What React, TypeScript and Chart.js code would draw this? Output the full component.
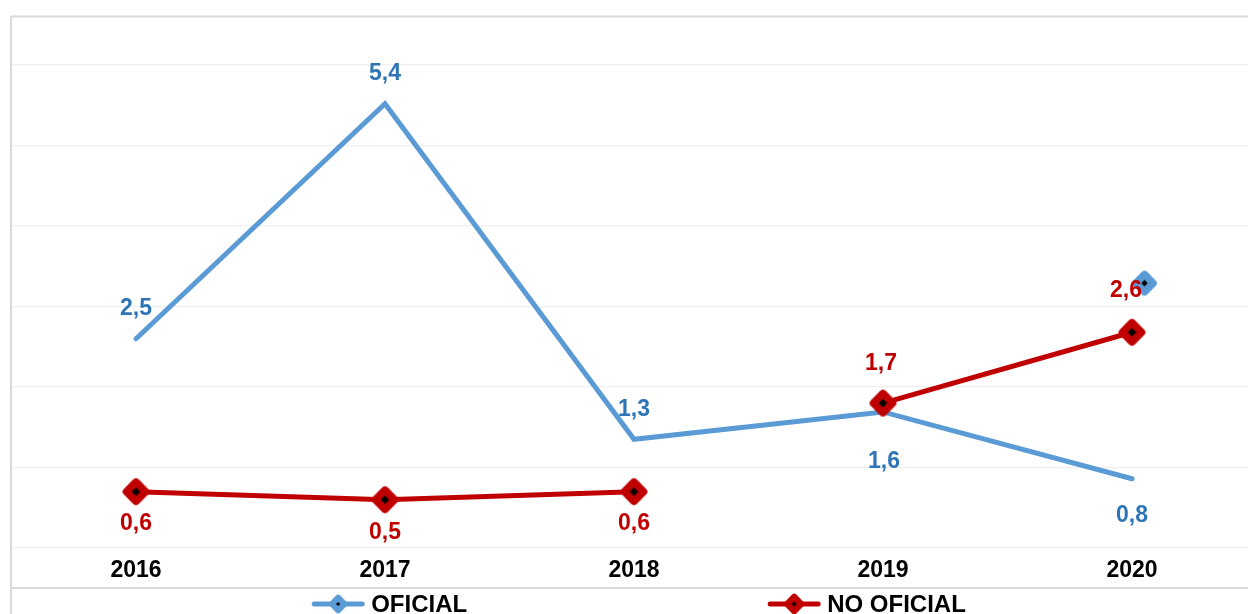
import React, { useEffect, useRef } from "react";
import { Chart, registerables } from "chart.js";

Chart.register(...registerables);

// ---- data ----
const years = ["2016", "2017", "2018", "2019", "2020"];
const oficial = [2.5, 5.42, 1.25, 1.59, 0.76];
const noOficial = [0.6, 0.5, 0.6, 1.7, 2.58];
const noOficialGapAfter = [2]; // no connecting line between 2018 and 2019
const strayOficialPoint = [{ x: 4.05, y: 3.19 }];
const yGridTicks = [-0.1, 0.9, 1.9, 2.9, 3.9, 4.9, 5.9];
const seriesNames = ["OFICIAL", "NO OFICIAL"];

// ---- styling ----
const BLUE = "#5b9bd5";
const BLUE_TEXT = "#2e75b6";
const RED = "#c00000";
const FONT = '"Liberation Sans", Arial, sans-serif';
const CANVAS_W = 1257;
const CANVAS_H = 614;
const oficialLabelShift = [
  [0, -30],
  [0, -30],
  [0, -30],
  [1, 50],
  [0, 37],
];
const noOficialLabelShift = [
  [0, 32],
  [0, 33],
  [0, 32],
  [-2, -39],
  [-6, -42],
];

const fmt = (v: number) => v.toFixed(1).replace(".", ",");

function makeDiamond(size: number, fill: string, dot: number, r: number): HTMLCanvasElement {
  const c = document.createElement("canvas");
  c.width = size;
  c.height = size;
  const ctx = c.getContext("2d")!;
  const h = size / 2;
  ctx.translate(h, h);
  ctx.rotate(Math.PI / 4);
  const s = (size - 1) / Math.SQRT2;
  ctx.fillStyle = fill;
  ctx.beginPath();
  ctx.moveTo(-s / 2 + r, -s / 2);
  ctx.lineTo(s / 2 - r, -s / 2);
  ctx.quadraticCurveTo(s / 2, -s / 2, s / 2, -s / 2 + r);
  ctx.lineTo(s / 2, s / 2 - r);
  ctx.quadraticCurveTo(s / 2, s / 2, s / 2 - r, s / 2);
  ctx.lineTo(-s / 2 + r, s / 2);
  ctx.quadraticCurveTo(-s / 2, s / 2, -s / 2, s / 2 - r);
  ctx.lineTo(-s / 2, -s / 2 + r);
  ctx.quadraticCurveTo(-s / 2, -s / 2, -s / 2 + r, -s / 2);
  ctx.closePath();
  ctx.fill();
  ctx.fillStyle = "#000";
  ctx.fillRect(-dot / 2, -dot / 2, dot, dot);
  return c;
}

export default function App() {
  const ref = useRef<HTMLCanvasElement | null>(null);

  useEffect(() => {
    if (!ref.current) return;
    const redMarker = makeDiamond(31, RED, 6, 4);
    const blueMarker = makeDiamond(29, BLUE, 4.5, 4);
    const redLegendMarker = makeDiamond(24, RED, 3.5, 3);
    const blueLegendMarker = makeDiamond(22, BLUE, 3, 3);

    const decorPlugin = {
      id: "decor",
      beforeDraw(chart: any) {
        const ctx = chart.ctx;
        ctx.save();
        ctx.fillStyle = "#fff";
        ctx.fillRect(0, 0, chart.width, chart.height);
        ctx.strokeStyle = "#d9d9d9";
        ctx.lineWidth = 2;
        ctx.beginPath();
        ctx.moveTo(11, chart.height + 5);
        ctx.lineTo(11, 16.5);
        ctx.lineTo(chart.width + 5, 16.5);
        ctx.stroke();
        ctx.beginPath();
        ctx.moveTo(12, 588);
        ctx.lineTo(chart.width + 5, 588);
        ctx.stroke();
        ctx.restore();
      },
      afterDatasetsDraw(chart: any) {
        const ctx = chart.ctx;
        ctx.save();
        ctx.font = `bold 23px ${FONT}`;
        ctx.textAlign = "center";
        ctx.textBaseline = "middle";
        const sets: [number, number[], number[][], string][] = [
          [0, oficial, oficialLabelShift, BLUE_TEXT],
          [1, noOficial, noOficialLabelShift, RED],
        ];
        for (const [di, vals, shift, color] of sets) {
          const meta = chart.getDatasetMeta(di);
          ctx.fillStyle = color;
          meta.data.forEach((el: any, i: number) => {
            ctx.fillText(fmt(vals[i]), el.x + shift[i][0], el.y + shift[i][1]);
          });
        }
        ctx.restore();
      },
      afterDraw(chart: any) {
        const ctx = chart.ctx;
        ctx.save();
        ctx.font = `bold 24px ${FONT}`;
        ctx.textBaseline = "middle";
        const lineLen = 52;
        const textGap = 7;
        const itemGap = 301;
        const legendCenter = 639;
        const y = 604;
        const w0 = lineLen + textGap + ctx.measureText(seriesNames[0]).width;
        const w1 = lineLen + textGap + ctx.measureText(seriesNames[1]).width;
        const total = w0 + itemGap + w1;
        let x = legendCenter - total / 2;
        const items: [string, string, HTMLCanvasElement, number][] = [
          [seriesNames[0], BLUE, blueLegendMarker, w0],
          [seriesNames[1], RED, redLegendMarker, w1],
        ];
        for (const [name, color, marker, w] of items) {
          ctx.strokeStyle = color;
          ctx.lineWidth = 5;
          ctx.lineCap = "round";
          ctx.beginPath();
          ctx.moveTo(x + 2, y);
          ctx.lineTo(x + lineLen - 2, y);
          ctx.stroke();
          ctx.drawImage(marker, x + lineLen / 2 - marker.width / 2, y - marker.height / 2);
          ctx.fillStyle = "#000";
          ctx.textAlign = "left";
          ctx.fillText(name, x + lineLen + textGap, y + 1);
          x += w + itemGap;
        }
        ctx.restore();
      },
    };

    const chart = new Chart(ref.current, {
      type: "line",
      data: {
        datasets: [
          {
            label: seriesNames[0],
            data: oficial.map((v, i) => ({ x: i, y: v })),
            borderColor: BLUE,
            backgroundColor: BLUE,
            borderWidth: 5,
            borderCapStyle: "round",
            borderJoinStyle: "miter",
            pointRadius: 0,
            pointHoverRadius: 0,
            order: 2,
          },
          {
            label: seriesNames[1],
            data: noOficial.map((v, i) => ({ x: i, y: v })),
            borderColor: RED,
            backgroundColor: RED,
            borderWidth: 5,
            borderCapStyle: "round",
            segment: {
              borderColor: (c: any) =>
                noOficialGapAfter.includes(c.p0DataIndex) ? "rgba(0,0,0,0)" : RED,
            },
            pointStyle: redMarker,
            pointRadius: 12,
            order: 1,
          },
          {
            label: "",
            data: strayOficialPoint,
            showLine: false,
            pointStyle: blueMarker,
            pointRadius: 12,
            order: 0,
          },
        ],
      },
      options: {
        responsive: false,
        animation: false,
        events: [],
        layout: { autoPadding: false, padding: { left: 11.5, right: 0.5, top: 65, bottom: 0 } },
        plugins: {
          legend: { display: false },
          tooltip: { enabled: false },
          title: { display: false },
        },
        scales: {
          x: {
            type: "linear",
            min: -0.5,
            max: 4.5,
            afterBuildTicks: (scale: any) => {
              scale.ticks = years.map((_, i) => ({ value: i }));
            },
            afterFit: (scale: any) => {
              scale.height = 66;
            },
            grid: { display: false, drawTicks: false },
            border: { display: false },
            ticks: {
              autoSkip: false,
              maxRotation: 0,
              padding: 9,
              color: "#000",
              font: { family: FONT, size: 23, weight: "bold" },
              callback: (v: any) => years[v as number] ?? "",
            },
          },
          y: {
            min: -0.1,
            max: 5.9,
            afterBuildTicks: (scale: any) => {
              scale.ticks = yGridTicks.map((v) => ({ value: v }));
            },
            afterFit: (scale: any) => {
              scale.width = 0;
            },
            grid: { color: "#efefef", lineWidth: 1.2, drawTicks: false },
            border: { display: false },
            ticks: { display: false },
          },
        },
      },
      plugins: [decorPlugin],
    } as any);
    return () => chart.destroy();
  }, []);

  return (
    <div
      style={{
        position: "fixed",
        left: 0,
        top: 0,
        width: 1248,
        height: 614,
        overflow: "hidden",
        background: "#fff",
      }}
    >
      <canvas
        ref={ref}
        width={CANVAS_W}
        height={CANVAS_H}
        style={{ display: "block", width: CANVAS_W, height: CANVAS_H }}
      />
    </div>
  );
}
